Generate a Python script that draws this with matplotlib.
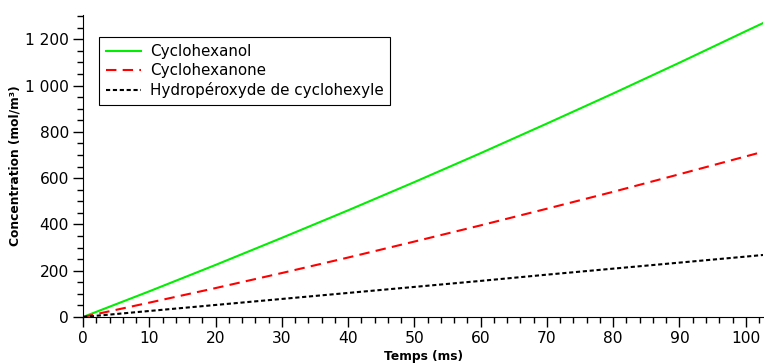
import matplotlib
matplotlib.use("Agg")
import matplotlib.pyplot as plt
from matplotlib.ticker import MultipleLocator, FuncFormatter

# Data
t_ms = [0, 10, 20, 30, 40, 50, 60, 70, 80, 90, 100, 102.6]
cyclohexanol = [0, 111, 225, 342, 461, 583, 708, 836, 966, 1099, 1235, 1270]
cyclohexanone = [0, 62, 125, 190, 257, 326, 396, 468, 541, 617, 694, 714]
hydroperoxyde = [0, 26, 52, 78, 104, 130, 156, 183, 209, 235, 261, 268]

labels = ["Cyclohexanol", "Cyclohexanone", "Hydropéroxyde de cyclohexyle"]

plt.rcParams['font.family'] = ['DejaVu Sans']

fig = plt.figure(figsize=(7.64, 3.63), dpi=100)
ax = fig.add_axes([83/764, 1-317/363, 680/764, 302/363])

ax.plot(t_ms, cyclohexanol, color="#00ee00", lw=1.5, label=labels[0])
ax.plot(t_ms, cyclohexanone, color="#ff0000", lw=1.5, dashes=(5, 3), label=labels[1])
ax.plot(t_ms, hydroperoxyde, color="black", lw=1.5, dashes=(2, 1.3), label=labels[2])

ax.set_xlim(0, 102.6)
ax.set_ylim(0, 1305)

ax.spines['top'].set_visible(False)
ax.spines['right'].set_visible(False)

ax.xaxis.set_major_locator(MultipleLocator(10))
ax.xaxis.set_minor_locator(MultipleLocator(2))
ax.yaxis.set_major_locator(MultipleLocator(200))
ax.yaxis.set_minor_locator(MultipleLocator(50))
ax.yaxis.set_major_formatter(FuncFormatter(lambda v, p: f"{v:,.0f}".replace(",", " ")))

ax.tick_params(which='major', direction='out', length=7, width=1, labelsize=11.2, pad=3)
ax.tick_params(which='minor', direction='out', length=4, width=1)

ax.set_xlabel("Temps (ms)", fontsize=8.8, fontweight='bold', labelpad=3)
ax.set_ylabel("Concentration (mol/m³)", fontsize=8.8, fontweight='bold', labelpad=3)

leg = ax.legend(loc='upper left', bbox_to_anchor=(16/680, 1-22/302), fontsize=10.9,
                frameon=True, fancybox=False, edgecolor='black', framealpha=1,
                handlelength=2.3, labelspacing=0.28, borderpad=0.45, handletextpad=0.6,
                borderaxespad=0)
leg.get_frame().set_linewidth(0.8)

fig.savefig("out.png", dpi=100)
